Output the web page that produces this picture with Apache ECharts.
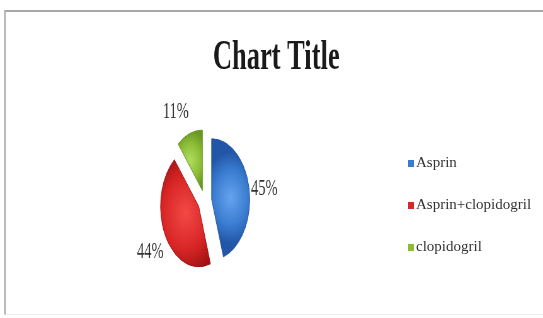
<!DOCTYPE html>
<html>
<head>
<meta charset="utf-8">
<script src="https://cdn.jsdelivr.net/npm/echarts@6/dist/echarts.min.js"></script>
<style>
  html, body { margin: 0; padding: 0; background: #fff; }
  #wrap { position: relative; width: 543px; height: 318px; overflow: hidden; }
  #frame {
    position: absolute; left: 4px; top: 10px; width: 600px; height: 302px;
    border-top: 2px solid #a8a8a8; border-left: 2px solid #bcbcbc; border-bottom: 1px solid #ececec;
  }
  /* the picture is squeezed horizontally, so the pie part is drawn wide and scaled */
  #pie { position: absolute; left: 0; top: 0; width: 862px; height: 318px; transform: scaleX(0.63); transform-origin: 0 0; }
  #legend { position: absolute; left: 0; top: 0; width: 543px; height: 318px; }
</style>
</head>
<body>
<div id="wrap">
  <div id="frame"></div>
  <div id="pie"></div>
  <div id="legend"></div>
</div>
<script>
var categories = ['Asprin', 'Asprin+clopidogril', 'clopidogril']
var shares = [45, 44, 11]

var baseColors = ['#3a7cd0', '#d82626', '#8cbc36']
var lightColors = ['#66a4ee', '#f24a46', '#b2dc5e']
var darkColors = ['#2256a6', '#a21212', '#6a9622']

function shade(i) {
  return {
    type: 'radial', x: 0.5, y: 0.5, r: 0.75,
    colorStops: [
      { offset: 0, color: lightColors[i] },
      { offset: 0.6, color: baseColors[i] },
      { offset: 1, color: darkColors[i] }
    ]
  }
}

var pieData = categories.map(function (name, i) {
  return { name: name, value: shares[i], selected: true, itemStyle: { color: shade(i), borderColor: darkColors[i], borderWidth: 1 } }
})

var pieChart = echarts.init(document.getElementById('pie'))
pieChart.setOption({
  animation: false,
  title: {
    text: 'Chart Title',
    left: 333,
    top: 32,
    textStyle: { fontFamily: 'Liberation Serif', fontWeight: 'bold', fontSize: 42, color: '#1a1a1a' }
  },
  series: [{
    type: 'pie',
    center: [325, 201],
    radius: [0, 60.5],
    startAngle: 90,
    selectedMode: 'multiple',
    selectedOffset: 11,
    silent: true,
    label: {
      show: true,
      position: 'outside',
      formatter: '{c}%',
      distanceToLabelLine: 0,
      fontFamily: 'Liberation Serif',
      fontSize: 23,
      color: '#333'
    },
    labelLine: { show: false, length: 3, length2: 0 },
    labelLayout: function (p) {
      if (p.dataIndex === 1) return { dy: 15 }
      if (p.dataIndex === 2) return { dy: -19 }
      return {}
    },
    data: pieData
  }]
})

// legend lives in its own unscaled layer
var legendChart = echarts.init(document.getElementById('legend'))
legendChart.setOption({
  animation: false,
  legend: {
    orient: 'vertical',
    left: 403,
    top: 151,
    itemWidth: 6,
    itemHeight: 7,
    itemGap: 27,
    icon: 'rect',
    data: categories,
    textStyle: { fontFamily: 'Liberation Serif', fontSize: 15, color: '#333', padding: [0, 0, 0, -3] }
  },
  series: [{
    type: 'pie',
    radius: [0, 0],
    center: [-50, -50],
    silent: true,
    label: { show: false },
    data: categories.map(function (name, i) {
      return { name: name, value: shares[i], itemStyle: { color: baseColors[i] } }
    })
  }]
})
</script>
</body>
</html>
